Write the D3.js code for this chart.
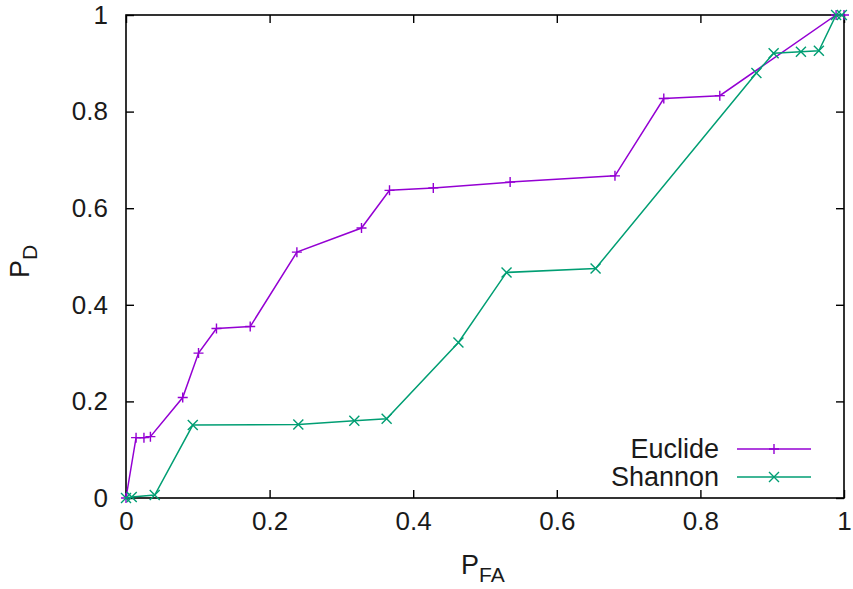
<!DOCTYPE html>
<html><head><meta charset="utf-8">
<script src="https://cdn.jsdelivr.net/npm/d3@7"></script>
<style>body{margin:0;background:#fff}svg{display:block}text{font-family:"Liberation Sans",Arial,sans-serif;fill:#1a1a1a}</style>
</head><body>
<script>
const xTicks = [0, 0.2, 0.4, 0.6, 0.8, 1];
const yTicks = [0, 0.2, 0.4, 0.6, 0.8, 1];
const euclideX = [0, 0.014, 0.025, 0.034, 0.079, 0.101, 0.126, 0.173, 0.238, 0.328, 0.367, 0.428, 0.535, 0.681, 0.749, 0.827, 0.989, 1.0];
const euclideY = [0, 0.125, 0.125, 0.127, 0.208, 0.300, 0.351, 0.355, 0.509, 0.559, 0.637, 0.642, 0.654, 0.667, 0.827, 0.833, 1.0, 1.0];
const shannonX = [0, 0.008, 0.040, 0.093, 0.240, 0.318, 0.363, 0.463, 0.530, 0.654, 0.878, 0.902, 0.940, 0.965, 0.989, 0.997];
const shannonY = [0, 0.002, 0.006, 0.151, 0.152, 0.160, 0.164, 0.322, 0.467, 0.475, 0.880, 0.921, 0.924, 0.926, 1.0, 1.0];
const seriesNames = ["Euclide", "Shannon"];
const seriesColors = ["#9400d3", "#009e73"];

const W = 853, H = 589;
const L = 126, R = 844, T = 15, B = 498;
const FS = 26;
const svg = d3.select("body").append("svg").attr("width", W).attr("height", H);
const x = d3.scaleLinear().domain([0, 1]).range([L, R]);
const y = d3.scaleLinear().domain([0, 1]).range([B, T]);

// frame
svg.append("rect").attr("x", L).attr("y", T).attr("width", R - L).attr("height", B - T)
  .attr("fill", "none").attr("stroke", "#000").attr("stroke-width", 1.6);

const axB = svg.append("g").attr("transform", `translate(0,${B})`)
  .call(d3.axisBottom(x).tickValues(xTicks).tickSize(-8).tickPadding(14).tickFormat(d3.format("")));
const axL = svg.append("g").attr("transform", `translate(${L},0)`)
  .call(d3.axisLeft(y).tickValues(yTicks).tickSize(-8).tickPadding(18).tickFormat(d3.format("")));
const axT = svg.append("g").attr("transform", `translate(0,${T})`)
  .call(d3.axisTop(x).tickValues(xTicks).tickSize(-8).tickFormat(""));
const axR = svg.append("g").attr("transform", `translate(${R},0)`)
  .call(d3.axisRight(y).tickValues(yTicks).tickSize(-8).tickFormat(""));
[axB, axL, axT, axR].forEach(g => {
  g.select(".domain").remove();
  g.selectAll(".tick line").attr("stroke", "#000").attr("stroke-width", 1.4);
  g.selectAll("text").style("font-size", FS + "px").attr("fill", "#1a1a1a")
    .style("font-family", '"Liberation Sans",Arial,sans-serif');
});
axB.selectAll("text").attr("dy", "0.68em");

// axis labels
const xl = svg.append("text").attr("x", 461).attr("y", 574).style("font-size", "27px");
xl.append("tspan").text("P");
xl.append("tspan").attr("dy", 8).style("font-size", "21px").text("FA");
const yl = svg.append("text").attr("transform", "translate(29,278) rotate(-90)").style("font-size", "27px");
yl.append("tspan").text("P");
yl.append("tspan").attr("dy", 8).style("font-size", "21px").text("D");

const line = d3.line().x(d => x(d[0])).y(d => y(d[1]));
const data = [d3.zip(euclideX, euclideY), d3.zip(shannonX, shannonY)];

function marker(g, cx, cy, i, color) {
  const s = 5;
  if (i === 0) {
    g.append("path").attr("d", `M${cx - s},${cy}H${cx + s}M${cx},${cy - s}V${cy + s}`)
      .attr("stroke", color).attr("stroke-width", 1.4).attr("fill", "none");
  } else {
    g.append("path").attr("d", `M${cx - s},${cy - s}L${cx + s},${cy + s}M${cx - s},${cy + s}L${cx + s},${cy - s}`)
      .attr("stroke", color).attr("stroke-width", 1.4).attr("fill", "none");
  }
}

data.forEach((pts, i) => {
  const g = svg.append("g");
  g.append("path").datum(pts).attr("d", line).attr("fill", "none")
    .attr("stroke", seriesColors[i]).attr("stroke-width", 1.5);
  pts.forEach(p => marker(g, x(p[0]), y(p[1]), i, seriesColors[i]));
});

// legend
seriesNames.forEach((n, i) => {
  const ly = 449 + i * 28;
  svg.append("text").attr("x", 719).attr("y", ly).attr("dy", "0.35em")
    .attr("text-anchor", "end").style("font-size", "27px").text(n);
  svg.append("line").attr("x1", 737).attr("x2", 811).attr("y1", ly).attr("y2", ly)
    .attr("stroke", seriesColors[i]).attr("stroke-width", 1.5);
  marker(svg, 774, ly, i, seriesColors[i]);
});
</script>
</body></html>
